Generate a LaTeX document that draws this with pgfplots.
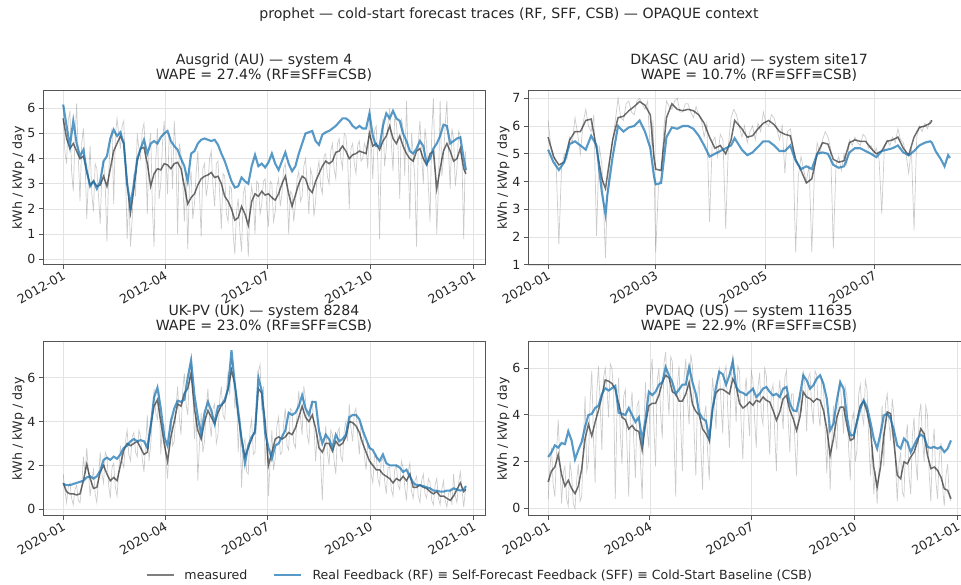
\documentclass[border=0pt]{standalone}
\usepackage{fontspec}
\setmainfont{DejaVu Sans}
\usepackage{pgfplots}
\usepackage{pgfplotstable}
\pgfplotsset{compat=1.18}
\definecolor{tabblue}{RGB}{31,119,180}
\definecolor{spine}{RGB}{85,85,85}
\definecolor{txt}{RGB}{38,38,38}

% columns: day, measured (smoothed), forecast (RF = SFF = CSB)
% Ausgrid (AU) system 4
\pgfplotstableread{
d m f
0 5.6 6.15
3 4.8 5.3
6 4.4 4.5
9 4.6 5.5
12 4.3 4.6
15 4.0 4.1
18 4.1 4.35
21 3.5 3.5
24 2.95 2.9
27 3.1 3.1
30 2.9 2.8
33 2.95 3.1
36 3.3 3.9
39 2.9 4.1
42 3.6 4.8
45 4.3 5.15
48 4.6 4.9
51 4.9 5.05
54 4.6 4.6
57 3.0 3.0
60 1.85 2.15
63 2.8 3.0
66 3.9 4.0
69 4.4 4.4
72 4.45 4.75
75 3.8 4.2
78 2.9 4.6
81 3.4 4.7
84 3.6 4.6
87 3.55 4.85
90 3.8 5.0
93 3.75 5.1
96 3.6 4.7
99 3.8 4.5
102 3.85 4.35
105 3.6 4.0
108 2.9 3.7
111 2.2 3.1
114 2.45 4.2
117 2.6 4.3
120 2.95 4.6
123 3.2 4.75
126 3.3 4.8
129 3.35 4.75
132 3.45 4.7
135 3.25 4.75
138 3.3 4.55
141 3.0 4.2
144 2.5 3.9
147 2.3 3.5
150 2.0 3.1
153 1.55 2.85
156 1.65 2.9
159 2.1 3.25
162 1.8 3.1
165 1.35 3.0
168 2.3 3.7
171 2.6 4.15
174 2.5 3.7
177 2.7 3.8
180 2.55 3.65
183 2.6 3.85
186 2.45 4.2
189 2.35 3.8
192 2.6 3.55
195 3.0 3.9
198 3.3 4.25
201 2.6 3.8
204 2.1 3.5
207 2.55 3.7
210 3.0 4.2
213 3.3 4.6
216 3.2 5.0
219 2.8 5.05
222 2.65 5.1
225 3.1 4.7
228 3.4 4.55
231 3.7 4.95
234 3.9 5.05
237 3.8 5.1
240 3.9 5.2
243 4.25 5.3
246 4.3 5.45
249 4.5 5.6
252 4.3 5.6
255 4.0 5.5
258 4.15 5.3
261 4.2 5.2
264 4.3 5.3
267 4.25 5.2
270 4.2 5.2
273 5.0 5.8
276 4.5 4.9
279 4.6 4.5
282 4.35 4.5
285 4.7 5.3
288 4.9 5.8
291 5.3 5.6
294 4.8 5.9
297 4.6 5.6
300 4.9 5.5
303 4.5 5.0
306 4.2 4.7
309 4.0 4.3
312 3.9 4.2
315 4.3 4.4
318 4.4 4.7
321 4.0 4.5
324 3.75 3.8
327 4.2 4.0
330 4.3 4.4
333 2.8 4.6
336 3.6 4.9
339 4.3 5.35
342 4.6 5.3
345 4.3 4.6
348 3.9 4.7
351 4.0 4.8
354 4.4 4.85
357 3.6 4.0
359 3.4 3.55
}\tabA

% DKASC (AU arid) site17
\pgfplotstableread{
d m f
0 5.6 5.15
3 4.9 4.7
6 4.6 4.42
9 4.7 4.7
12 5.5 5.35
15 5.8 5.45
18 5.8 5.3
21 6.2 5.15
24 6.25 5.65
27 5.2 5.3
30 4.1 3.6
32 3.75 2.82
33 4.2 3.5
36 5.5 4.9
39 6.3 6.0
42 6.35 5.8
45 6.55 5.95
48 6.7 6.0
51 6.88 6.2
54 6.75 5.8
57 6.4 5.2
59 4.9 4.2
60 4.45 3.9
63 4.4 3.95
66 6.3 5.6
69 6.8 5.95
72 6.6 5.9
75 6.55 6.0
78 6.6 6.0
81 6.55 5.9
84 6.4 5.65
87 6.1 5.3
90 5.6 4.9
93 5.2 5.0
96 5.3 5.1
99 5.0 5.2
102 5.5 5.3
104 6.2 5.56
108 5.9 5.15
111 5.6 4.95
114 5.65 5.05
117 5.9 5.25
120 6.1 5.45
123 6.2 5.45
126 6.05 5.3
129 5.8 5.1
132 5.7 5.1
135 5.65 5.3
138 4.8 4.75
141 4.4 4.45
144 3.95 4.55
147 4.1 4.45
150 5.0 5.0
153 5.4 5.05
156 5.35 5.0
159 4.8 4.6
162 4.7 4.5
165 4.75 4.55
168 5.4 5.05
171 5.5 5.2
174 5.45 5.2
177 5.45 5.1
180 5.2 5.0
183 5.0 4.88
186 5.1 5.1
189 5.45 5.15
192 5.5 5.2
195 5.6 5.3
198 5.2 5.05
201 4.95 4.95
204 5.6 5.1
207 5.95 5.3
210 6.0 5.4
213 6.1 5.45
214 6.2 5.4
216 nan 5.1
219 nan 4.8
221 nan 4.55
223 nan 4.95
224 nan 4.85
}\tabB

% UK-PV (UK) system 8284
\pgfplotstableread{
d m f
0 1.2 1.15
3 0.8 1.1
6 0.7 1.1
9 0.7 1.15
12 0.65 1.2
15 0.7 1.25
18 1.3 1.3
21 2.05 1.45
24 1.4 1.5
27 0.95 1.4
30 1.0 1.5
33 1.7 1.75
36 2.0 2.25
39 1.6 2.35
42 1.3 2.25
45 1.45 2.4
48 1.3 2.3
51 2.0 2.5
54 2.7 2.8
57 3.0 2.9
60 2.9 3.1
63 3.0 3.2
66 3.1 3.1
69 2.8 3.15
72 2.5 3.1
75 2.6 2.8
78 3.8 3.8
81 4.7 5.1
84 5.0 5.55
87 4.0 4.6
90 3.0 3.3
93 2.2 2.9
96 3.3 4.0
99 4.0 4.6
102 4.8 4.95
105 4.7 4.9
108 5.3 5.0
111 5.5 6.0
114 6.2 6.8
117 4.6 5.2
120 3.6 4.2
123 3.2 3.4
126 4.0 4.4
129 4.5 4.9
132 4.2 4.5
135 3.9 3.9
138 4.4 4.7
141 4.75 4.75
144 4.9 5.0
147 5.5 5.5
150 6.35 7.25
153 5.7 5.7
156 4.3 4.5
159 3.2 3.2
162 2.4 2.1
165 2.8 2.9
168 3.2 3.3
171 3.6 3.5
174 5.5 6.0
177 5.3 5.4
180 4.0 3.5
183 2.0 2.8
186 2.6 2.3
189 3.2 2.9
192 3.3 3.0
195 3.2 3.3
198 3.3 3.6
201 3.5 4.4
204 3.4 4.3
207 3.7 4.4
210 4.2 4.7
213 4.7 5.2
216 4.2 4.6
219 4.0 4.3
222 4.3 4.9
225 3.7 4.9
228 2.8 3.6
231 2.6 3.0
234 3.0 3.4
237 3.0 3.2
240 2.65 2.8
243 3.1 3.4
246 2.9 3.1
249 3.0 3.2
252 3.3 3.4
255 4.0 4.2
258 3.95 4.3
261 3.8 4.3
264 3.5 4.1
267 3.0 3.6
270 2.6 3.2
273 2.2 2.8
276 2.0 2.7
279 1.8 2.4
282 1.8 2.2
285 1.6 2.5
288 1.5 2.1
291 1.4 2.0
294 1.2 2.0
297 1.4 2.0
300 1.3 1.9
303 1.5 1.7
306 1.3 1.8
309 1.6 1.5
312 1.0 1.2
315 1.0 1.1
318 1.1 1.1
321 1.0 1.05
324 0.95 1.0
327 0.8 0.95
330 0.7 0.85
333 0.8 0.85
336 0.6 0.8
339 0.6 0.8
342 0.5 0.85
345 0.4 0.85
348 0.6 0.95
351 0.9 0.9
354 1.2 0.85
357 0.8 0.9
359 0.9 1.05
}\tabC

% PVDAQ (US) system 11635
\pgfplotstableread{
d m f
0 1.13 2.2
3 1.6 2.4
6 1.77 2.7
9 2.3 2.6
12 1.45 2.8
15 0.95 2.75
18 1.2 3.3
21 0.85 2.9
24 0.63 2.1
27 0.95 2.5
30 1.7 2.85
33 2.99 3.5
36 3.6 4.0
39 3.1 4.05
42 3.7 4.3
45 4.2 4.4
48 4.8 4.9
51 5.5 5.15
54 5.45 5.05
57 5.35 5.15
60 5.1 5.25
63 4.5 4.1
66 3.9 4.05
69 3.8 4.0
72 3.4 4.3
75 3.55 4.0
78 3.35 3.7
81 3.3 3.9
84 2.5 2.9
87 3.6 3.8
90 4.4 5.0
93 4.5 4.85
96 4.5 5.0
99 4.85 5.3
102 5.4 5.4
105 5.7 6.05
108 5.6 5.7
111 5.0 5.4
114 4.9 4.9
117 4.6 5.1
120 4.6 5.3
123 4.9 5.3
126 5.4 6.05
129 4.45 5.4
132 4.15 4.9
135 4.0 4.1
138 3.4 3.85
141 3.2 3.75
144 2.9 3.0
147 4.3 4.3
150 4.95 5.2
153 5.1 5.85
156 5.1 5.75
159 5.0 5.3
162 4.9 5.7
165 5.55 6.3
168 5.25 5.2
171 4.5 5.0
174 4.3 4.95
177 4.4 4.85
180 4.56 4.99
183 4.42 5.13
186 4.63 4.77
189 4.56 4.91
192 4.77 5.13
195 4.63 5.2
198 4.56 4.99
201 4.2 4.84
204 3.77 4.91
207 4.13 4.77
210 4.7 5.13
213 4.84 5.2
216 4.2 4.49
219 3.84 4.2
222 3.34 4.16
225 3.91 4.84
228 4.99 5.7
231 4.77 5.49
234 4.7 5.13
237 4.56 5.27
240 4.7 5.56
243 4.63 5.7
246 4.2 5.34
249 3.41 4.7
252 2.27 3.34
255 2.99 3.63
258 3.91 4.63
261 4.34 5.41
264 4.34 5.13
267 3.56 3.91
270 2.91 3.13
273 2.99 3.13
276 3.77 3.7
279 4.41 4.27
282 4.59 4.63
285 4.13 4.34
288 3.41 3.7
291 1.77 2.99
294 0.91 2.56
297 1.77 3.2
300 3.13 3.98
303 4.13 4.06
306 4.06 3.84
309 2.84 3.34
312 1.41 2.7
315 1.27 2.56
318 1.99 2.99
321 1.91 2.84
324 2.2 2.41
327 2.41 2.7
330 2.84 2.99
333 3.41 3.16
336 3.2 3.06
339 2.27 2.63
342 1.7 2.59
345 1.77 2.63
348 1.63 2.56
351 1.34 2.63
354 0.84 2.41
357 0.77 2.56
360 0.41 2.91
}\tabD

\newcommand{\basefont}{\fontsize{12.6}{15}\selectfont}
\newcommand{\titlefont}{\fontsize{14.1}{15.7}\selectfont}

\pgfplotsset{
  panel/.style={
    scale only axis, width=442pt, height=174pt, anchor=south west,
    axis line style={spine, line width=1pt},
    every tick/.style={spine, line width=1pt},
    major tick length=4pt, tick align=outside,
    xtick pos=bottom, ytick pos=left,
    grid=major, major grid style={black!11, line width=0.8pt},
    tick label style={font=\basefont, txt},
    /pgf/number format/assume math mode=true,
    xticklabel style={xshift=1pt, yshift=-5pt, rotate=30, anchor=east, inner sep=0pt},
    yticklabel style={anchor=east, inner sep=0pt, xshift=-3.3pt},
    ylabel={kWh / kWp / day},
    every axis y label/.style={at={(axis description cs:-0.0557,0.5)}, rotate=90, anchor=center, font=\basefont, txt},
    title style={at={(0.5,1)}, anchor=south, align=center, inner sep=0pt, yshift=3pt, font=\titlefont, txt},
  },
  rawline/.style={black, opacity=0.2, line width=0.7pt, forget plot},
  measline/.style={black, opacity=0.57, line width=1.5pt, forget plot},
  fcline/.style={tabblue, opacity=0.75, line width=2.1pt, forget plot},
}

\begin{document}
\begin{tikzpicture}[x=1pt,y=1pt]
\path[use as bounding box] (0,0) rectangle (961,585);
\node[font=\titlefont, txt, anchor=center] at (509,570) {prophet — cold-start forecast traces (RF, SFF, CSB) — OPAQUE context};

\begin{axis}[panel, at={(43pt,320pt)},
  xmin=-18, xmax=376, ymin=-0.23, ymax=6.69,
  ytick={0,1,2,3,4,5,6},
  xtick={0,91,182,274,366}, xticklabels={2012-01,2012-04,2012-07,2012-10,2013-01},
  title={Ausgrid (AU) — system 4\\WAPE = 27.4\% (RF≡SFF≡CSB)}]
\addplot[rawline] coordinates {(0,6.1)(1.5,4.3)(3,3.8)(4.5,5.5)(6,5.9)(7.5,3.5)(9,2.7)(10.5,4.8)(12,6.2)(13.5,4.0)(15,2.3)(16.5,4.6)(18,5.2)(19.5,3.9)(21,1.6)(22.5,3.2)(24,4.5)(25.5,2.6)(27,1.9)(28.5,3.8)(30,3.6)(31.5,2.5)(33,1.4)(34.5,3.4)(36,3.9)(37.5,2.9)(39,0.7)(40.5,3.3)(42,4.8)(43.5,5.2)(45,2.2)(46.5,4.9)(48,5.6)(49.5,5.0)(51,4.4)(52.5,5.3)(54,5.5)(55.5,3.6)(57,0.8)(58.5,2.6)(60,0.5)(61.5,1.6)(63,3.4)(64.5,2.5)(66,5.0)(67.5,4.4)(69,4.0)(70.5,5.1)(72,5.4)(73.5,4.2)(75,1.8)(76.5,4.5)(78,5.0)(79.5,2.1)(81,0.5)(82.5,3.9)(84,5.2)(85.5,2.4)(87,3.0)(88.5,4.6)(90,5.5)(91.5,4.1)(93,2.6)(94.5,5.0)(96,4.6)(97.5,2.8)(99,5.5)(100.5,4.3)(102,1.0)(103.5,4.6)(105,4.2)(106.5,3.2)(108,1.5)(109.5,3.4)(111,0.4)(112.5,2.8)(114,3.5)(115.5,1.6)(117,2.2)(118.5,3.4)(120,4.3)(121.5,2.6)(123,0.9)(124.5,3.6)(126,3.8)(127.5,2.5)(129,3.0)(130.5,4.0)(132,4.3)(133.5,2.9)(135,2.1)(136.5,3.8)(138,3.9)(139.5,2.6)(141,1.2)(142.5,3.4)(144,3.3)(145.5,1.8)(147,1.5)(148.5,2.9)(150,2.8)(151.5,1.0)(153,0.2)(154.5,1.9)(156,2.4)(157.5,1.1)(159,0.3)(160.5,2.6)(162,2.9)(163.5,1.6)(165,0.1)(166.5,2.2)(168,2.9)(169.5,2.4)(171,1.0)(172.5,3.1)(174,3.0)(175.5,1.8)(177,2.2)(178.5,3.1)(180,3.2)(181.5,2.0)(183,1.3)(184.5,3.1)(186,3.0)(187.5,1.5)(189,1.9)(190.5,2.9)(192,3.2)(193.5,2.1)(195,2.6)(196.5,3.6)(198,3.8)(199.5,2.9)(201,1.0)(202.5,2.7)(204,2.6)(205.5,1.5)(207,2.2)(208.5,3.2)(210,3.5)(211.5,2.3)(213,2.5)(214.5,3.7)(216,4.0)(217.5,3.0)(219,1.8)(220.5,3.6)(222,3.3)(223.5,1.7)(225,2.3)(226.5,3.5)(228,3.9)(229.5,2.9)(231,2.6)(232.5,4.1)(234,4.2)(235.5,3.3)(237,3.0)(238.5,4.3)(240,4.6)(241.5,3.6)(243,3.2)(244.5,4.6)(246,4.8)(247.5,4.0)(249,3.6)(250.5,5.0)(252,4.9)(253.5,4.1)(255,2.0)(256.5,4.4)(258,4.6)(259.5,3.8)(261,3.4)(262.5,4.5)(264,4.7)(265.5,3.9)(267,4.0)(268.5,4.6)(270,4.4)(271.5,3.6)(273,5.8)(274.5,4.6)(276,3.2)(277.5,5.1)(279,5.3)(280.5,3.9)(282,0.8)(283.5,4.2)(285,5.6)(286.5,3.7)(288,4.4)(289.5,5.4)(291,6.0)(292.5,4.6)(294,3.5)(295.5,5.7)(297,5.4)(298.5,4.4)(300,2.4)(301.5,5.6)(303,5.2)(304.5,3.3)(306,6.3)(307.5,4.1)(309,1.6)(310.5,5.0)(312,4.2)(313.5,3.1)(315,0.5)(316.5,4.6)(318,5.5)(319.5,4.1)(321,3.0)(322.5,5.2)(324,4.6)(325.5,2.9)(327,1.5)(328.5,5.0)(330,6.4)(331.5,3.6)(333,1.0)(334.5,2.9)(336,6.3)(337.5,3.3)(339,4.0)(340.5,5.3)(342,6.3)(343.5,4.3)(345,2.8)(346.5,5.2)(348,4.8)(349.5,2.9)(351,3.6)(352.5,5.1)(354,4.9)(355.5,3.9)(357,0.8)(358.5,4.3)(359,3.5)};
\addplot[measline] table[x=d,y=m]{\tabA};
\addplot[fcline] table[x=d,y=f]{\tabA};
\end{axis}

\begin{axis}[panel, at={(528pt,320pt)},
  xmin=-11.2, xmax=235.2, ymin=1.0, ymax=7.26,
  ytick={1,2,3,4,5,6,7},
  xtick={0,60,121,182}, xticklabels={2020-01,2020-03,2020-05,2020-07},
  title={DKASC (AU arid) — system site17\\WAPE = 10.7\% (RF≡SFF≡CSB)}]
\addplot[rawline] coordinates {(0,6.2)(1.5,5.3)(3,5.0)(4.5,4.6)(6,1.75)(7.5,4.5)(9,5.0)(10.5,4.8)(12,5.6)(13.5,5.4)(15,6.3)(16.5,5.7)(18,5.0)(19.5,6.1)(21,6.6)(22.5,6.0)(24,5.8)(25.5,6.4)(27,2.05)(28.5,5.3)(30,4.6)(31,3.0)(32,1.25)(33,3.5)(34.5,4.8)(36,5.5)(37.5,6.2)(39,7.0)(40.5,6.3)(42,6.2)(43.5,6.8)(45,6.9)(46.5,6.5)(48,6.4)(49.5,6.9)(51,7.0)(52.5,6.8)(54,6.6)(55.5,6.9)(57,5.0)(58.5,6.2)(60,1.45)(61.5,3.8)(63,4.2)(64.5,5.9)(66,6.9)(67.5,6.7)(69,6.6)(70.5,6.9)(72,7.0)(73.5,6.5)(75,6.5)(76.5,6.8)(78,6.8)(79.5,6.5)(81,6.3)(82.5,6.7)(84,6.4)(85.5,6.2)(87,5.6)(88.5,6.1)(90,2.55)(91.5,5.4)(93,5.6)(94.5,4.9)(96,5.7)(97.5,5.5)(99,2.3)(100.5,5.3)(102,6.3)(103.5,6.6)(105,6.4)(106.5,6.0)(108,5.6)(109.5,6.0)(111,5.4)(112.5,5.8)(114,6.0)(115.5,5.5)(117,6.1)(118.5,5.8)(120,6.5)(121.5,6.1)(123,6.0)(124.5,6.4)(126,6.3)(127.5,5.9)(129,5.5)(130.5,6.0)(132,4.3)(133.5,5.8)(135,5.9)(136.5,5.3)(138,1.45)(139.5,4.2)(141,4.9)(142.5,4.4)(144,4.0)(145.5,4.6)(147,1.45)(148.5,4.4)(150,5.4)(151.5,5.0)(153,5.5)(154.5,5.8)(156,5.6)(157.5,5.2)(159,1.6)(160.5,4.6)(162,4.9)(163.5,4.4)(165,5.0)(166.5,4.6)(168,5.5)(169.5,5.3)(171,5.6)(172.5,5.4)(174,5.3)(175.5,5.7)(177,5.6)(178.5,5.2)(180,5.3)(181.5,5.0)(183,5.2)(184.5,4.8)(186,2.85)(187.5,5.3)(189,5.5)(190.5,5.3)(192,5.6)(193.5,5.4)(195,5.9)(196.5,5.5)(198,5.4)(199.5,5.0)(201,4.3)(202.5,5.2)(204,2.25)(205.5,5.6)(207,6.0)(208.5,5.8)(210,6.1)(211.5,5.9)(213,6.2)(214,6.2)};
\addplot[measline] table[x=d,y=m]{\tabB};
\addplot[fcline] table[x=d,y=f]{\tabB};
\end{axis}

\begin{axis}[panel, at={(43pt,69pt)},
  xmin=-18, xmax=376, ymin=-0.31, ymax=7.63,
  ytick={0,2,4,6},
  xtick={0,91,182,274,366}, xticklabels={2020-01,2020-04,2020-07,2020-10,2021-01},
  title={UK-PV (UK) — system 8284\\WAPE = 23.0\% (RF≡SFF≡CSB)},
  legend style={at={(axis description cs:0.233,-0.339)}, anchor=west, draw=none, fill=none,
    font=\basefont, text=txt, inner sep=0pt, outer sep=0pt, nodes={inner sep=0pt},
    /tikz/every odd column/.append style={column sep=10pt},
    /tikz/every even column/.append style={column sep=26pt}},
  legend columns=2, legend cell align=left,
  legend image code/.code={\draw[#1] (0pt,0pt) -- (27pt,0pt);}]
\addplot[rawline] coordinates {(0,1.6)(1.5,0.9)(3,0.3)(4.5,1.0)(6,1.2)(7.5,0.5)(9,0.2)(10.5,0.9)(12,1.1)(13.5,0.4)(15,0.3)(16.5,1.0)(18,2.4)(19.5,1.6)(21,2.8)(22.5,1.7)(24,0.6)(25.5,1.3)(27,1.8)(28.5,0.7)(30,0.3)(31.5,1.4)(33,2.6)(34.5,1.6)(36,1.2)(37.5,2.6)(39,2.4)(40.5,1.1)(42,0.5)(43.5,1.9)(45,2.1)(46.5,1.0)(48,0.6)(49.5,1.7)(51,2.9)(52.5,2.2)(54,1.9)(55.5,3.1)(57,3.6)(58.5,2.5)(60,2.2)(61.5,3.3)(63,3.5)(64.5,2.6)(66,2.4)(67.5,3.6)(69,3.3)(70.5,2.3)(72,1.7)(73.5,3.0)(75,4.3)(76.5,2.2)(78,2.9)(79.5,4.3)(81,5.5)(82.5,4.4)(84,4.1)(85.5,5.4)(87,2.5)(88.5,3.9)(90,3.8)(91.5,2.4)(93,1.4)(94.5,2.8)(96,4.2)(97.5,2.9)(99,3.1)(100.5,4.6)(102,5.6)(103.5,4.2)(105,3.4)(106.5,5.4)(108,6.2)(109.5,4.8)(111,4.3)(112.5,6.0)(114,6.8)(115.5,5.4)(117,3.2)(118.5,4.4)(120,1.3)(121.5,3.0)(123,4.4)(124.5,2.6)(126,3.1)(127.5,4.6)(129,5.5)(130.5,4.0)(132,3.3)(133.5,4.6)(135,4.8)(136.5,3.0)(138,3.4)(139.5,5.0)(141,5.6)(142.5,4.3)(144,4.1)(145.5,5.4)(147,6.3)(148.5,5.2)(150,6.9)(151.5,6.4)(153,4.6)(154.5,5.3)(156,2.6)(157.5,4.2)(159,1.0)(160.5,2.9)(162,3.2)(163.5,1.7)(165,1.6)(166.5,3.6)(168,4.1)(169.5,2.5)(171,2.6)(172.5,4.6)(174,6.3)(175.5,6.6)(177,4.5)(178.5,5.6)(180,2.0)(181.5,3.4)(183,0.6)(184.5,2.2)(186,3.6)(187.5,1.8)(189,2.3)(190.5,3.8)(192,4.2)(193.5,2.5)(195,2.6)(196.5,3.9)(198,4.6)(199.5,2.9)(201,2.7)(202.5,4.6)(204,4.5)(205.5,3.0)(207,2.8)(208.5,4.4)(210,5.4)(211.5,4.2)(213,3.4)(214.5,5.6)(216,5.0)(217.5,3.4)(219,3.0)(220.5,4.5)(222,4.9)(223.5,3.8)(225,2.2)(226.5,3.4)(228,3.6)(229.5,2.2)(231,0.4)(232.5,2.6)(234,3.8)(235.5,2.6)(237,2.0)(238.5,3.6)(240,3.4)(241.5,2.2)(243,1.6)(244.5,3.5)(246,3.7)(247.5,2.4)(249,2.2)(250.5,3.6)(252,4.0)(253.5,3.1)(255,4.8)(256.5,3.7)(258,3.1)(259.5,4.4)(261,4.6)(262.5,3.4)(264,2.5)(265.5,3.9)(267,3.7)(268.5,2.4)(270,1.8)(271.5,3.0)(273,2.9)(274.5,1.6)(276,1.2)(277.5,2.4)(279,2.5)(280.5,1.4)(282,1.1)(283.5,2.2)(285,2.3)(286.5,1.3)(288,0.7)(289.5,1.9)(291,1.9)(292.5,0.9)(294,0.6)(295.5,1.8)(297,2.0)(298.5,1.1)(300,0.9)(301.5,2.2)(303,1.9)(304.5,1.0)(306,0.4)(307.5,1.7)(309,2.1)(310.5,0.8)(312,0.5)(313.5,1.3)(315,1.5)(316.5,0.6)(318,0.3)(319.5,1.3)(321,1.6)(322.5,0.7)(324,0.5)(325.5,1.4)(327,1.2)(328.5,0.4)(330,0.2)(331.5,1.1)(333,1.4)(334.5,0.5)(336,0.2)(337.5,0.9)(339,1.3)(340.5,0.4)(342,0.1)(343.5,0.7)(345,0.9)(346.5,0.2)(348,1.6)(349.5,0.6)(351,0.3)(352.5,1.2)(354,1.7)(355.5,0.9)(357,0.1)(358,0.6)(359,1.1)};
\addplot[measline] table[x=d,y=m]{\tabC};
\addplot[fcline] table[x=d,y=f]{\tabC};
\addlegendimage{black, opacity=0.5, line width=1.5pt}
\addlegendentry{measured}
\addlegendimage{tabblue, opacity=0.75, line width=2.1pt}
\addlegendentry{Real Feedback (RF) ≡ Self-Forecast Feedback (SFF) ≡ Cold-Start Baseline (CSB)}
\end{axis}

\begin{axis}[panel, at={(528pt,69pt)},
  xmin=-18, xmax=377, ymin=-0.33, ymax=7.13,
  ytick={0,2,4,6},
  xtick={0,91,182,274,366}, xticklabels={2020-01,2020-04,2020-07,2020-10,2021-01},
  title={PVDAQ (US) — system 11635\\WAPE = 22.9\% (RF≡SFF≡CSB)}]
\addplot[rawline] coordinates {(0,0.4)(1.5,1.7)(3,2.6)(4.5,1.0)(6,0.5)(7.5,2.4)(9,3.8)(10.5,2.0)(12,0.2)(13.5,1.5)(15,1.8)(16.5,0.4)(18,0.1)(19.5,2.0)(21,1.4)(22.5,0.2)(24,0.0)(25.5,1.2)(27,1.9)(28.5,0.3)(30,0.5)(31.5,2.9)(33,4.8)(34.5,1.6)(36,2.0)(37.5,4.6)(39,5.9)(40.5,3.0)(42,1.1)(43.5,5.0)(45,6.1)(46.5,4.5)(48,2.5)(49.5,5.6)(51,6.0)(52.5,5.2)(54,3.9)(55.5,6.2)(57,6.0)(58.5,5.0)(60,0.4)(61.5,4.1)(63,5.6)(64.5,3.2)(66,1.9)(67.5,4.8)(69,5.1)(70.5,2.6)(72,0.5)(73.5,4.1)(75,5.0)(76.5,2.9)(78,1.3)(79.5,4.4)(81,4.6)(82.5,2.0)(84,0.4)(85.5,3.5)(87,5.4)(88.5,3.4)(90,2.6)(91.5,5.8)(93,6.4)(94.5,3.5)(96,1.8)(97.5,5.5)(99,6.0)(100.5,4.1)(102,3.0)(103.5,6.2)(105,6.7)(106.5,5.1)(108,4.0)(109.5,6.5)(111,6.3)(112.5,3.0)(114,0.5)(115.5,5.3)(117,6.1)(118.5,3.6)(120,1.6)(121.5,5.6)(123,6.4)(124.5,4.6)(126,3.6)(127.5,6.6)(129,6.1)(130.5,3.2)(132,1.4)(133.5,4.8)(135,5.5)(136.5,2.6)(138,0.8)(139.5,3.9)(141,4.4)(142.5,2.4)(144,1.2)(145.5,4.3)(147,5.6)(148.5,4.6)(150,3.4)(151.5,5.7)(153,6.0)(154.5,4.5)(156,3.2)(157.5,5.8)(159,6.1)(160.5,4.2)(162,2.6)(163.5,5.5)(165,6.6)(166.5,5.2)(168,3.7)(169.5,6.1)(171,5.9)(172.5,3.6)(174,2.1)(175.5,4.8)(177,5.6)(178.5,4.2)(180,3.1)(181.5,5.9)(183,5.5)(184.5,3.8)(186,2.6)(187.5,5.2)(189,5.8)(190.5,4.0)(192,3.6)(193.5,6.0)(195,5.7)(196.5,3.9)(198,2.3)(199.5,5.0)(201,5.3)(202.5,3.2)(204,1.6)(205.5,4.6)(207,5.5)(208.5,4.4)(210,3.4)(211.5,5.6)(213,5.9)(214.5,3.8)(216,2.4)(217.5,4.9)(219,4.9)(220.5,2.8)(222,1.4)(223.5,3.9)(225,5.0)(226.5,4.1)(228,5.9)(229.5,5.3)(231,3.3)(232.5,5.6)(234,5.8)(235.5,4.3)(237,3.6)(238.5,5.9)(240,5.7)(241.5,4.1)(243,3.5)(244.5,5.6)(246,5.3)(247.5,3.4)(249,1.5)(250.5,3.6)(252,0.8)(253.5,2.9)(255,4.4)(256.5,3.2)(258,2.5)(259.5,5.0)(261,5.4)(262.5,4.3)(264,3.2)(265.5,5.2)(267,4.8)(268.5,2.6)(270,1.2)(271.5,3.8)(273,4.1)(274.5,2.0)(276,2.5)(277.5,4.9)(279,5.3)(280.5,4.0)(282,3.6)(283.5,5.5)(285,5.1)(286.5,3.0)(288,1.4)(289.5,2.7)(291,0.6)(292.5,1.6)(294,0.2)(295.5,1.5)(297,3.2)(298.5,4.4)(300,1.8)(301.5,4.5)(303,4.9)(304.5,3.7)(306,2.9)(307.5,4.7)(309,4.0)(310.5,1.8)(312,0.3)(313.5,1.9)(315,2.4)(316.5,0.7)(318,0.5)(319.5,2.9)(321,3.6)(322.5,1.4)(324,0.6)(325.5,3.1)(327,3.9)(328.5,2.0)(330,1.2)(331.5,3.9)(333,4.5)(334.5,3.0)(336,2.0)(337.5,4.4)(339,4.0)(340.5,1.5)(342,0.3)(343.5,2.6)(345,3.4)(346.5,1.2)(348,0.4)(349.5,2.2)(351,2.8)(352.5,0.9)(354,0.1)(355.5,1.4)(357,1.9)(358.5,0.5)(360,0.3)};
\addplot[measline] table[x=d,y=m]{\tabD};
\addplot[fcline] table[x=d,y=f]{\tabD};
\end{axis}
\end{tikzpicture}
\end{document}
